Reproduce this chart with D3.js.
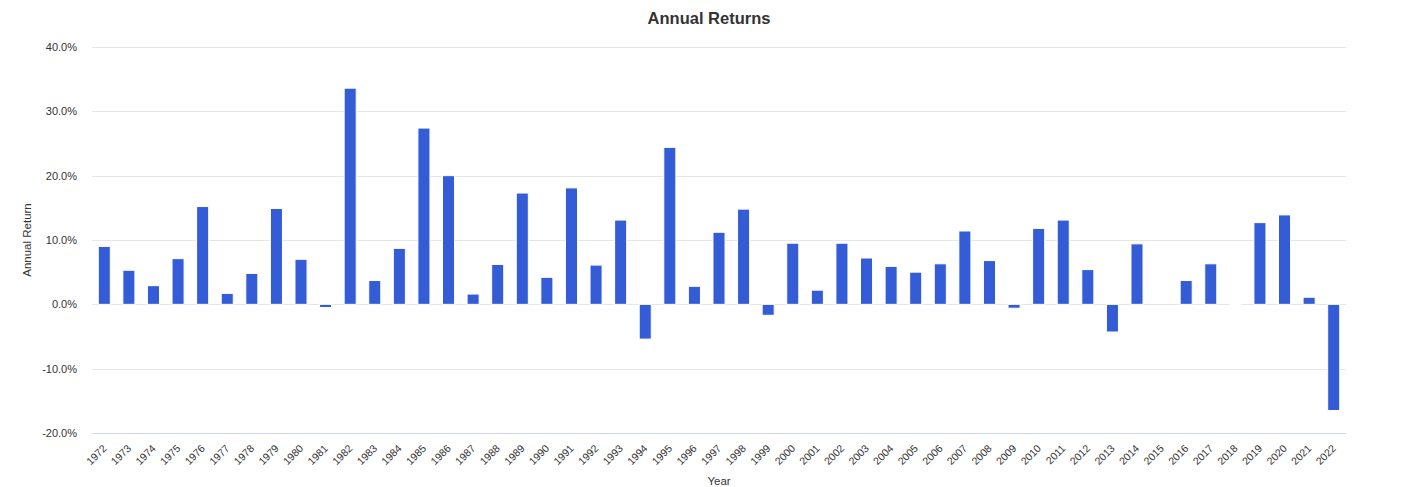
<!DOCTYPE html>
<html>
<head>
<meta charset="utf-8">
<script src="https://cdn.jsdelivr.net/npm/d3@7"></script>
<style>
  body { margin: 0; background: #fff; }
  svg { font-family: "Liberation Sans", Arial, Helvetica, sans-serif; }
</style>
</head>
<body>
<svg id="chart"></svg>
<script>
// Annual returns per year, in percent
const years = d3.range(1972, 2023).map(String);
const returns = [
  9.0, 5.3, 2.9, 7.1, 15.2, 1.7, 4.8, 14.9, 7.0, -0.5,
  33.6, 3.7, 8.7, 27.4, 20.0, 1.6, 6.2, 17.3, 4.2, 18.1,
  6.1, 13.1, -5.4, 24.4, 2.8, 11.2, 14.8, -1.7, 9.5, 2.2,
  9.5, 7.2, 5.9, 5.0, 6.3, 11.4, 6.8, -0.6, 11.8, 13.1,
  5.4, -4.3, 9.4, 0, 3.7, 6.3, -0.1, 12.7, 13.9, 1.1,
  -16.5
];
const yTicks = [-20, -10, 0, 10, 20, 30, 40];

const width = 1418, height = 487;
const margin = { top: 47, right: 72, bottom: 54, left: 92 };

const svg = d3.select("#chart")
  .attr("width", width)
  .attr("height", height);

const x = d3.scaleBand()
  .domain(years)
  .range([margin.left, width - margin.right])
  .paddingInner(0.51)
  .paddingOuter(0.255);

const y = d3.scaleLinear()
  .domain([-20, 40])
  .range([height - margin.bottom, margin.top]);

// title
svg.append("text")
  .attr("x", width / 2)
  .attr("y", 24)
  .attr("text-anchor", "middle")
  .style("font-size", "16.5px")
  .style("font-weight", "bold")
  .style("fill", "#333")
  .text("Annual Returns");

// gridlines
svg.append("g")
  .selectAll("line")
  .data(yTicks.filter(d => d !== -20))
  .join("line")
  .attr("x1", margin.left)
  .attr("x2", width - margin.right)
  .attr("y1", d => Math.round(y(d)) + 0.5)
  .attr("y2", d => Math.round(y(d)) + 0.5)
  .attr("stroke", "#e6e6e6");

// x axis line
svg.append("line")
  .attr("x1", margin.left)
  .attr("x2", width - margin.right)
  .attr("y1", Math.round(y(-20)) + 0.5)
  .attr("y2", Math.round(y(-20)) + 0.5)
  .attr("stroke", "#ccd6eb");

// y labels (plain hyphen for negatives)
const pct = d => d3.format(".1f")(d).replace("\u2212", "-") + "%";
svg.append("g")
  .selectAll("text")
  .data(yTicks)
  .join("text")
  .attr("x", 77)
  .attr("y", d => y(d) + 4)
  .attr("text-anchor", "end")
  .style("font-size", "11px")
  .style("fill", "#333")
  .text(pct);

// y title
svg.append("text")
  .attr("transform", `translate(31,${(y(40) + y(-20)) / 2}) rotate(-90)`)
  .attr("text-anchor", "middle")
  .style("font-size", "11.5px")
  .style("fill", "#333")
  .text("Annual Return");

// bars
const data = years.map((yr, i) => ({ year: yr, value: returns[i] }));
svg.append("g")
  .selectAll("rect")
  .data(data.filter(d => d.value !== 0))
  .join("rect")
  .attr("x", d => x(d.year))
  .attr("width", x.bandwidth())
  .attr("y", d => y(Math.max(0, d.value)))
  .attr("height", d => Math.abs(y(d.value) - y(0)))
  .attr("fill", "#335cd6")
  .attr("stroke", "#fff")
  .attr("stroke-width", 1);

// x labels
svg.append("g")
  .selectAll("text")
  .data(years)
  .join("text")
  .attr("transform", d => `translate(${x(d) + x.bandwidth() / 2 + 3},${height - margin.bottom + 16}) rotate(-45)`)
  .attr("text-anchor", "end")
  .style("font-size", "10.5px")
  .style("fill", "#333")
  .text(d => d);

// x title
svg.append("text")
  .attr("x", (margin.left + width - margin.right) / 2)
  .attr("y", 485)
  .attr("text-anchor", "middle")
  .style("font-size", "11.5px")
  .style("fill", "#333")
  .text("Year");
</script>
</body>
</html>
